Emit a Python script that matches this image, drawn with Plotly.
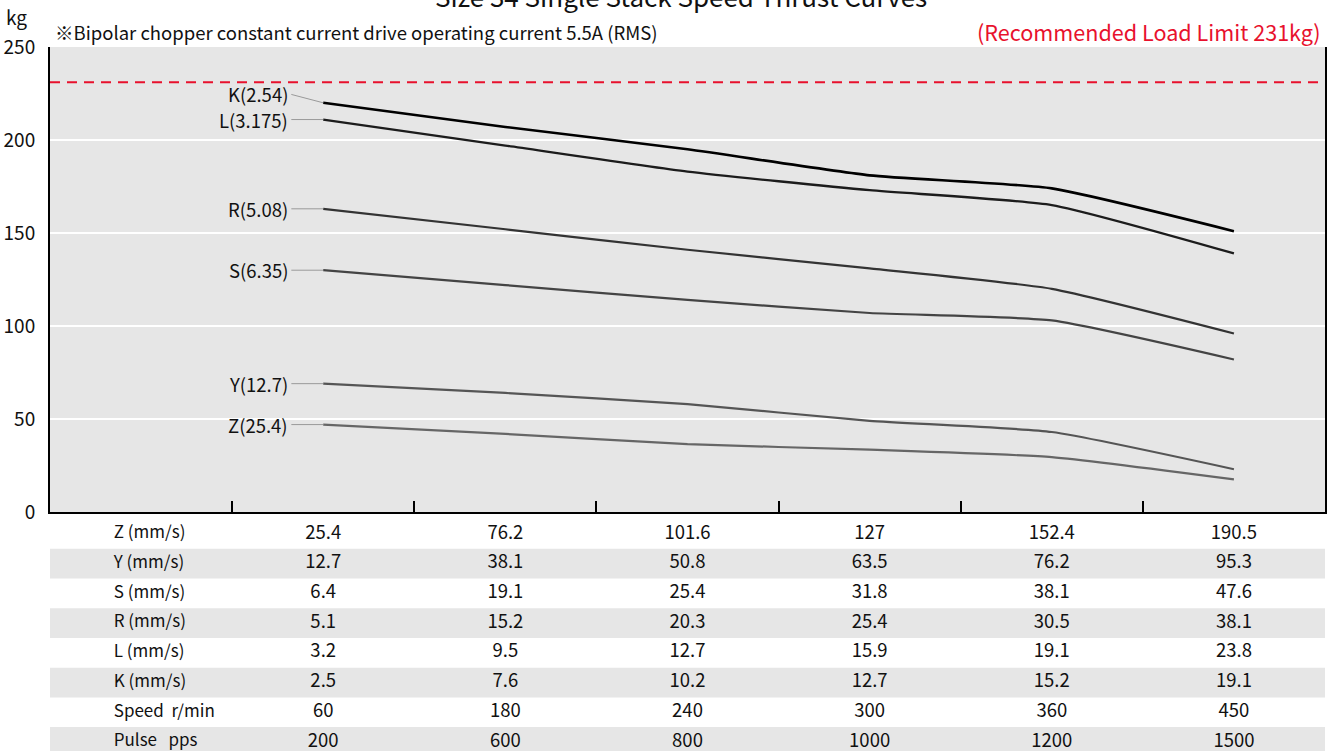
import plotly.graph_objects as go

# Speed table (one row per lead screw, plus motor speed and pulse rate)
row_labels = ["Z (mm/s)", "Y (mm/s)", "S (mm/s)", "R (mm/s)", "L (mm/s)", "K (mm/s)",
              "Speed\u00a0\u00a0r/min", "Pulse\u00a0\u00a0\u00a0pps"]
speed_z = ["25.4", "76.2", "101.6", "127", "152.4", "190.5"]
speed_y = ["12.7", "38.1", "50.8", "63.5", "76.2", "95.3"]
speed_s = ["6.4", "19.1", "25.4", "31.8", "38.1", "47.6"]
speed_r = ["5.1", "15.2", "20.3", "25.4", "30.5", "38.1"]
speed_l = ["3.2", "9.5", "12.7", "15.9", "19.1", "23.8"]
speed_k = ["2.5", "7.6", "10.2", "12.7", "15.2", "19.1"]
speed_rpm = ["60", "180", "240", "300", "360", "450"]
pulse_pps = ["200", "600", "800", "1000", "1200", "1500"]
table_rows = [speed_z, speed_y, speed_s, speed_r, speed_l, speed_k, speed_rpm, pulse_pps]

# Thrust (kg) at each speed column
thrust_k = [220, 207, 195, 181, 174, 151]
thrust_l = [211, 197, 183, 173, 165, 139]
thrust_r = [163, 152, 141, 131, 120, 96]
thrust_s = [130, 122, 114, 107, 103, 82]
thrust_y = [69, 64, 58, 49, 43, 23]
thrust_z = [47, 42, 36.5, 33.5, 29.5, 17.5]

curve_names = ["K(2.54)", "L(3.175)", "R(5.08)", "S(6.35)", "Y(12.7)", "Z(25.4)"]
curve_values = [thrust_k, thrust_l, thrust_r, thrust_s, thrust_y, thrust_z]
curve_colors = ["#000000", "#1c1c1c", "#333333", "#444444", "#555555", "#666666"]
curve_widths = [2.6, 2.3, 2.2, 2.2, 2.2, 2.2]

LOAD_LIMIT = 231
FONT = "Noto Sans CJK JP"
BAND = "#e6e6e6"

n_cols = len(speed_z)
col_pos = [i + 1.5 for i in range(n_cols)]
X_MAX = n_cols + 1

fig = go.Figure()

# thrust curves
for name, vals, color, w in zip(curve_names, curve_values, curve_colors, curve_widths):
    fig.add_trace(go.Scatter(
        x=col_pos, y=vals, mode="lines", name=name,
        line=dict(color=color, width=w, shape="spline", smoothing=0.5),
        hoverinfo="x+y", showlegend=False, xaxis="x", yaxis="y"))

# curve labels with leader lines
label_x = 1.318
leader_x0 = 1.325
label_lift = {"K(2.54)": 4.5}
for name, vals in zip(curve_names, curve_values):
    ly = vals[0] + label_lift.get(name, 0)
    fig.add_shape(type="line", xref="x", yref="y", x0=leader_x0, x1=col_pos[0],
                  y0=ly, y1=vals[0], line=dict(color="#9a9a9a", width=1))
    fig.add_annotation(x=label_x, y=ly, xref="x", yref="y", text=name,
                       showarrow=False, xanchor="right", yanchor="middle",
                       font=dict(family=FONT, size=18.5, color="#111111"))

# plot area background
fig.add_shape(type="rect", xref="x", yref="y", x0=0, x1=X_MAX, y0=0, y1=250,
              fillcolor=BAND, line=dict(width=0), layer="below")

# recommended load limit
fig.add_shape(type="line", xref="x", yref="y", x0=0, x1=X_MAX, y0=LOAD_LIMIT, y1=LOAD_LIMIT,
              line=dict(color="#e8112d", width=2, dash="10px,7px"))

# table: alternating bands
row_idx = list(range(1, len(row_labels) + 1))
for i in row_idx:
    if i % 2 == 0:
        fig.add_shape(type="rect", xref="x", yref="y2", x0=0, x1=X_MAX,
                      y0=i - 0.5, y1=i + 0.5, fillcolor=BAND,
                      line=dict(width=0), layer="below")

# table: row labels
fig.add_trace(go.Scatter(
    x=[0.35] * len(row_labels), y=row_idx, mode="text", text=row_labels,
    textposition="middle right", textfont=dict(family=FONT, size=17, color="#111111"),
    hoverinfo="skip", showlegend=False, xaxis="x", yaxis="y2", cliponaxis=False))

# table: values
cell_x, cell_y, cell_t = [], [], []
for i, row in zip(row_idx, table_rows):
    for cx, v in zip(col_pos, row):
        cell_x.append(cx)
        cell_y.append(i)
        cell_t.append(v)
fig.add_trace(go.Scatter(
    x=cell_x, y=cell_y, mode="text", text=cell_t, textposition="middle center",
    textfont=dict(family=FONT, size=18.5, color="#111111"),
    hoverinfo="skip", showlegend=False, xaxis="x", yaxis="y2", cliponaxis=False))

split = 239 / 704

fig.update_layout(
    width=1341, height=751,
    margin=dict(l=50, r=16, t=47, b=0),
    paper_bgcolor="white", plot_bgcolor="white",
    font=dict(family=FONT, size=16, color="#111111"),
    xaxis=dict(range=[0, X_MAX], anchor="y", showgrid=False, zeroline=False, automargin=False,
               tickmode="array", tickvals=list(range(1, n_cols + 1)),
               ticks="inside", ticklen=11, tickwidth=2, tickcolor="black",
               showticklabels=False, showline=True, linecolor="black", linewidth=2),
    yaxis=dict(domain=[split, 1], range=[0, 250], anchor="x", automargin=False,
               tickvals=[0, 50, 100, 150, 200, 250], ticks="", ticklabelstandoff=9,
               tickfont=dict(family=FONT, size=19, color="#111111"),
               showgrid=True, gridcolor="white", gridwidth=1.5, zeroline=False,
               showline=True, mirror=True, linecolor="black", linewidth=2),
    yaxis2=dict(domain=[0, split], range=[8.304, 0.2595], anchor="x", automargin=False,
                showgrid=False, zeroline=False, showticklabels=False, ticks=""),
)

# header texts
fig.add_annotation(xref="paper", yref="paper", x=0.495, y=1.0726,
                   text="Size 34 Single Stack Speed Thrust Curves", showarrow=False,
                   xanchor="center", yanchor="middle",
                   font=dict(family=FONT, size=26, color="#111111"))
fig.add_annotation(xref="paper", yref="paper", x=-0.026, y=1.043, text="kg",
                   showarrow=False, xanchor="center", yanchor="middle",
                   font=dict(family=FONT, size=19, color="#111111"))
fig.add_annotation(xref="paper", yref="paper", x=0.002, y=1.021,
                   text="※Bipolar chopper constant current drive operating current 5.5A (RMS)",
                   showarrow=False, xanchor="left", yanchor="middle",
                   font=dict(family=FONT, size=18.5, color="#111111"))
fig.add_annotation(xref="paper", yref="paper", x=0.9984, y=1.0225,
                   text="(Recommended Load Limit 231kg)", showarrow=False,
                   xanchor="right", yanchor="middle",
                   font=dict(family=FONT, size=21.6, color="#e8112d"))

fig.write_html("out.html")
